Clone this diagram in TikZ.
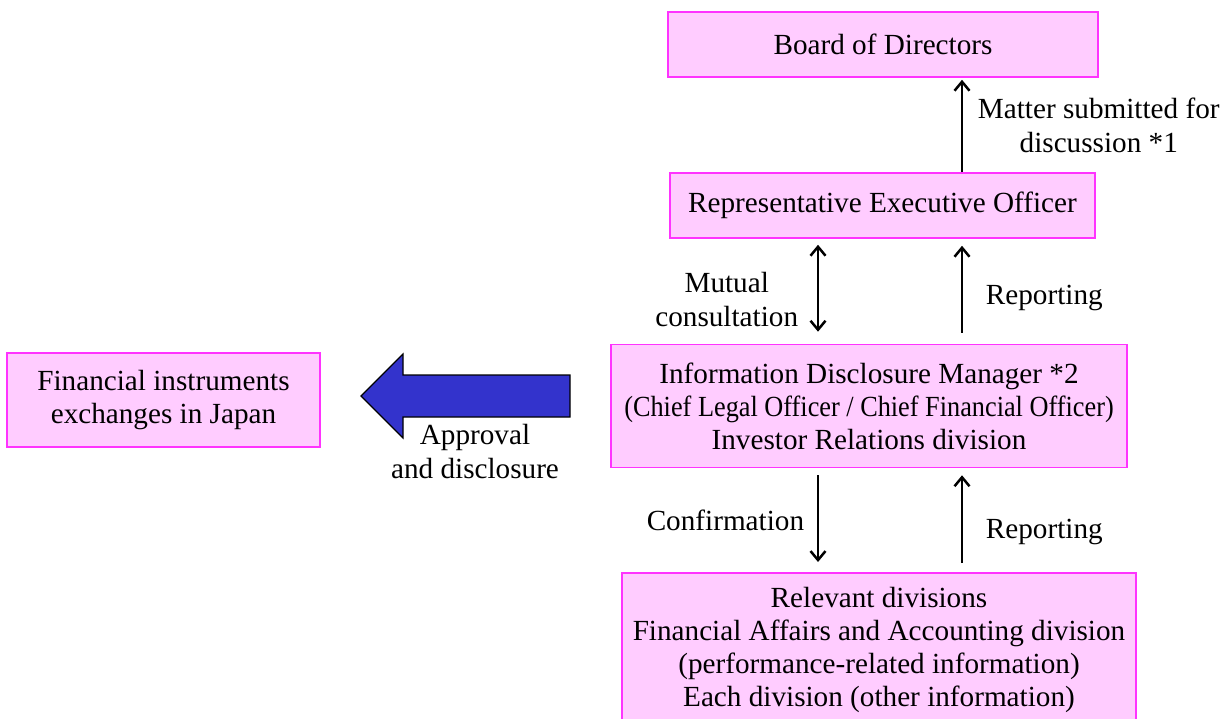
\documentclass[tikz,border=0pt]{standalone}
\usepackage{fontspec}
\setmainfont{Liberation Serif}
\usetikzlibrary{calc,positioning}
\usetikzlibrary{arrows.meta}
\definecolor{boxpink}{RGB}{255,204,255}
\definecolor{boxedge}{RGB}{255,51,255}
\definecolor{flowblue}{RGB}{51,51,204}
\tikzset{
  org node/.style={
    draw=boxedge, fill=boxpink, line width=0.8pt, align=center, inner sep=0pt,
    font=\fontsize{14.6}{16.5}\selectfont
  },
  flow label/.style={align=center, font=\fontsize{14.6}{17}\selectfont},
  big arrow/.style={draw=black, fill=flowblue, line width=0.6pt},
  >={Straight Barb[length=4.5pt,width=7.5pt]}
}

\begin{document}
\begin{tikzpicture}[x=0.5pt, y=-0.5pt, every edge/.append style={line width=1.25pt}]
    \useasboundingbox (0,0) rectangle (1230,718);
    % boxes
    \draw (883,44.5) node[org node, minimum width=215pt, minimum height=32.5pt] (board) {Board of Directors};
    \draw (882.5,205.5) node[org node, minimum width=212.5pt, minimum height=32.5pt] (rep) {Representative Executive Officer};
    \draw (869,406) node[org node, minimum width=258pt, minimum height=61.5pt] (idm) {Information Disclosure Manager *2\\\scalebox{0.9}[1]{(Chief Legal Officer / Chief Financial Officer)}\\Investor Relations division};
    \draw (163.5,400) node[org node, minimum width=156.5pt, minimum height=47pt] (exch) {Financial instruments\\exchanges in Japan};
    \draw (879,572) node[org node, anchor=north, minimum width=257pt, inner ysep=7pt] (divs) {Relevant divisions\\Financial Affairs and Accounting division\\(performance-related information)\\Each division (other information)};
    \coordinate (lane l) at (818,0);
    \coordinate (lane r) at (962,0);
    % connectors
    \draw (rep.north -| lane r) edge[->, shorten >=1pt] node[flow label, midway, right=4pt] {Matter submitted for\\discussion *1} (board.south -| lane r);
    \draw (rep.south -| lane l) edge[<->, shorten <=3pt, shorten >=6pt] node[flow label, midway, left=6pt, yshift=-4pt] {Mutual\\consultation} (idm.north -| lane l);
    \draw (idm.north -| lane r) edge[->, shorten <=5.5pt, shorten >=3.5pt] node[flow label, midway, right=8pt, yshift=-3.5pt] {Reporting} (rep.south -| lane r);
    \draw (idm.south -| lane l) edge[->, shorten <=3.5pt, shorten >=5pt] node[flow label, midway, left=3pt] {Confirmation} (divs.north -| lane l);
    \draw (divs.north -| lane r) edge[->, shorten <=4.5pt, shorten >=3.5pt] node[flow label, midway, right=8pt, yshift=-6pt] {Reporting} (idm.south -| lane r);
    % disclosure arrow
    \draw[big arrow] (570,375) -- (403,375) -- (403,354) -- (361,396) -- (403,438) -- (403,417) -- (570,417) -- cycle;
    \node[flow label] (approval) at (475,452) {Approval\\and disclosure};
\end{tikzpicture}
\end{document}
